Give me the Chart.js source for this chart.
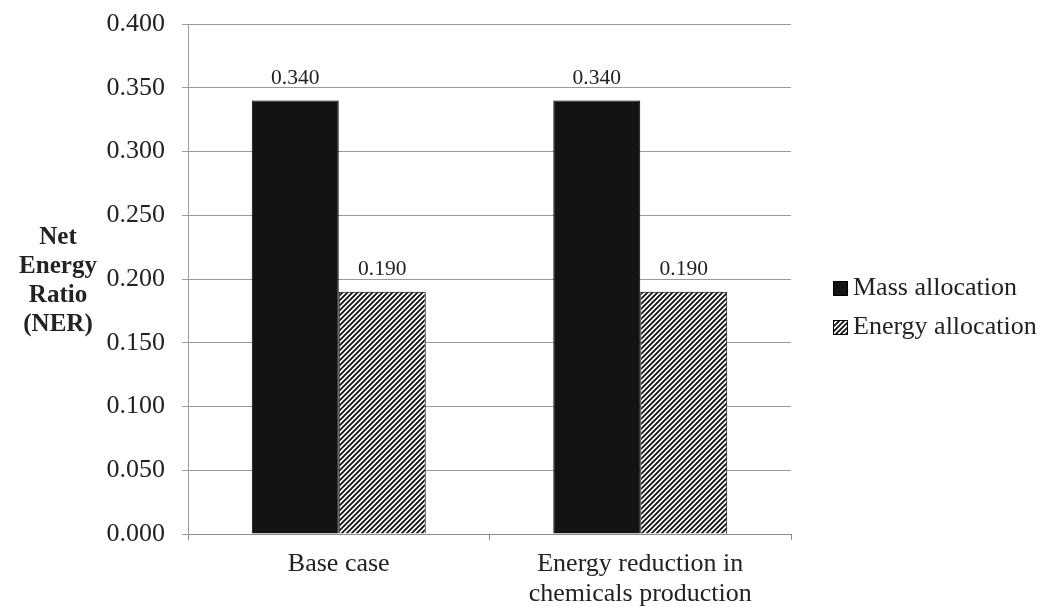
<!DOCTYPE html>
<html><head><meta charset="utf-8">
<script src="https://cdn.jsdelivr.net/npm/chart.js@4.4.1/dist/chart.umd.min.js"></script>
<style>html,body{margin:0;padding:0;background:#fff;} #wrap{width:1041px;height:609px;position:relative;}</style>
</head><body><div id="wrap"><canvas id="c" width="1041" height="609"></canvas></div>
<script>
const categories = [['Base case'], ['Energy reduction in', 'chemicals production']];
const seriesNames = ['Mass allocation', 'Energy allocation'];
const massValues = [0.340, 0.340];
const energyValues = [0.190, 0.190];
const yTitleLines = ['Net', 'Energy', 'Ratio', '(NER)'];
const yMin = 0, yMax = 0.4, yStep = 0.05;

const FONT = "'Liberation Serif', 'Times New Roman', serif";

function hatch() {
  const s = 5;
  const c = document.createElement('canvas');
  c.width = c.height = s;
  const x = c.getContext('2d');
  x.fillStyle = '#fff'; x.fillRect(0, 0, s, s);
  x.strokeStyle = '#111'; x.lineWidth = 1.8;
  x.beginPath();
  x.moveTo(-1, s + 1); x.lineTo(s + 1, -1);
  x.moveTo(-1, 1); x.lineTo(1, -1);
  x.moveTo(s - 1, s + 1); x.lineTo(s + 1, s - 1);
  x.stroke();
  return x.createPattern(c, 'repeat');
}
const hatchPattern = hatch();

const extras = {
  id: 'extras',
  afterDatasetsDraw(chart) {
    const ctx = chart.ctx;
    ctx.save();
    ctx.font = '21.5px ' + FONT;
    ctx.fillStyle = '#222';
    ctx.textAlign = 'center';
    ctx.textBaseline = 'alphabetic';
    chart.data.datasets.forEach((ds, di) => {
      chart.getDatasetMeta(di).data.forEach((el, i) => {
        ctx.fillText(ds.data[i].toFixed(3), el.x, el.y - 17);
      });
    });
    ctx.restore();
  },
  afterDraw(chart) {
    const ctx = chart.ctx;
    ctx.save();
    ctx.font = 'bold 25px ' + FONT;
    ctx.fillStyle = '#222';
    ctx.textAlign = 'center';
    ctx.textBaseline = 'alphabetic';
    yTitleLines.forEach((t, i) => ctx.fillText(t, 58, 244 + i * 29));
    ctx.font = '26px ' + FONT;
    ctx.textAlign = 'left';
    ctx.textBaseline = 'middle';
    const ys = [288, 327];
    chart.data.datasets.forEach((ds, i) => {
      const y = ys[i];
      ctx.fillStyle = ds.backgroundColor;
      ctx.fillRect(833, y - 7, 15, 15);
      ctx.strokeStyle = '#000'; ctx.lineWidth = 1;
      ctx.strokeRect(833.5, y - 6.5, 14, 14);
      ctx.fillStyle = '#222';
      ctx.fillText(ds.label, 853, y);
    });
    ctx.restore();
  }
};

new Chart(document.getElementById('c'), {
  type: 'bar',
  data: {
    labels: categories,
    datasets: [
      { label: seriesNames[0], data: massValues, backgroundColor: '#131313', borderColor: '#000', borderWidth: 1, categoryPercentage: 0.577, barPercentage: 1 },
      { label: seriesNames[1], data: energyValues, backgroundColor: hatchPattern, borderColor: '#000', borderWidth: 1, categoryPercentage: 0.577, barPercentage: 1 }
    ]
  },
  options: {
    responsive: false,
    animation: false,
    layout: { padding: { left: 0, right: 250, top: 24, bottom: 0 } },
    plugins: { legend: { display: false }, tooltip: { enabled: false } },
    scales: {
      x: {
        grid: { display: true, drawOnChartArea: false, tickLength: 6, color: '#8c8c8c', offset: true },
        border: { color: '#8c8c8c' },
        ticks: { font: { family: FONT, size: 26, lineHeight: 1.15 }, color: '#222', padding: 9, maxRotation: 0 },
        afterFit(s) { s.height = 75; s.paddingLeft = 0; s.paddingRight = 0; }
      },
      y: {
        min: yMin, max: yMax,
        ticks: { stepSize: yStep, callback: v => v.toFixed(3), font: { family: FONT, size: 26 }, color: '#222', padding: 17 },
        grid: { color: '#9a9a9a', tickLength: 6 },
        border: { color: '#9a9a9a' },
        afterFit(s) { s.width = 188; s.paddingTop = 0; s.paddingBottom = 0; }
      }
    }
  },
  plugins: [extras]
});
</script></body></html>
